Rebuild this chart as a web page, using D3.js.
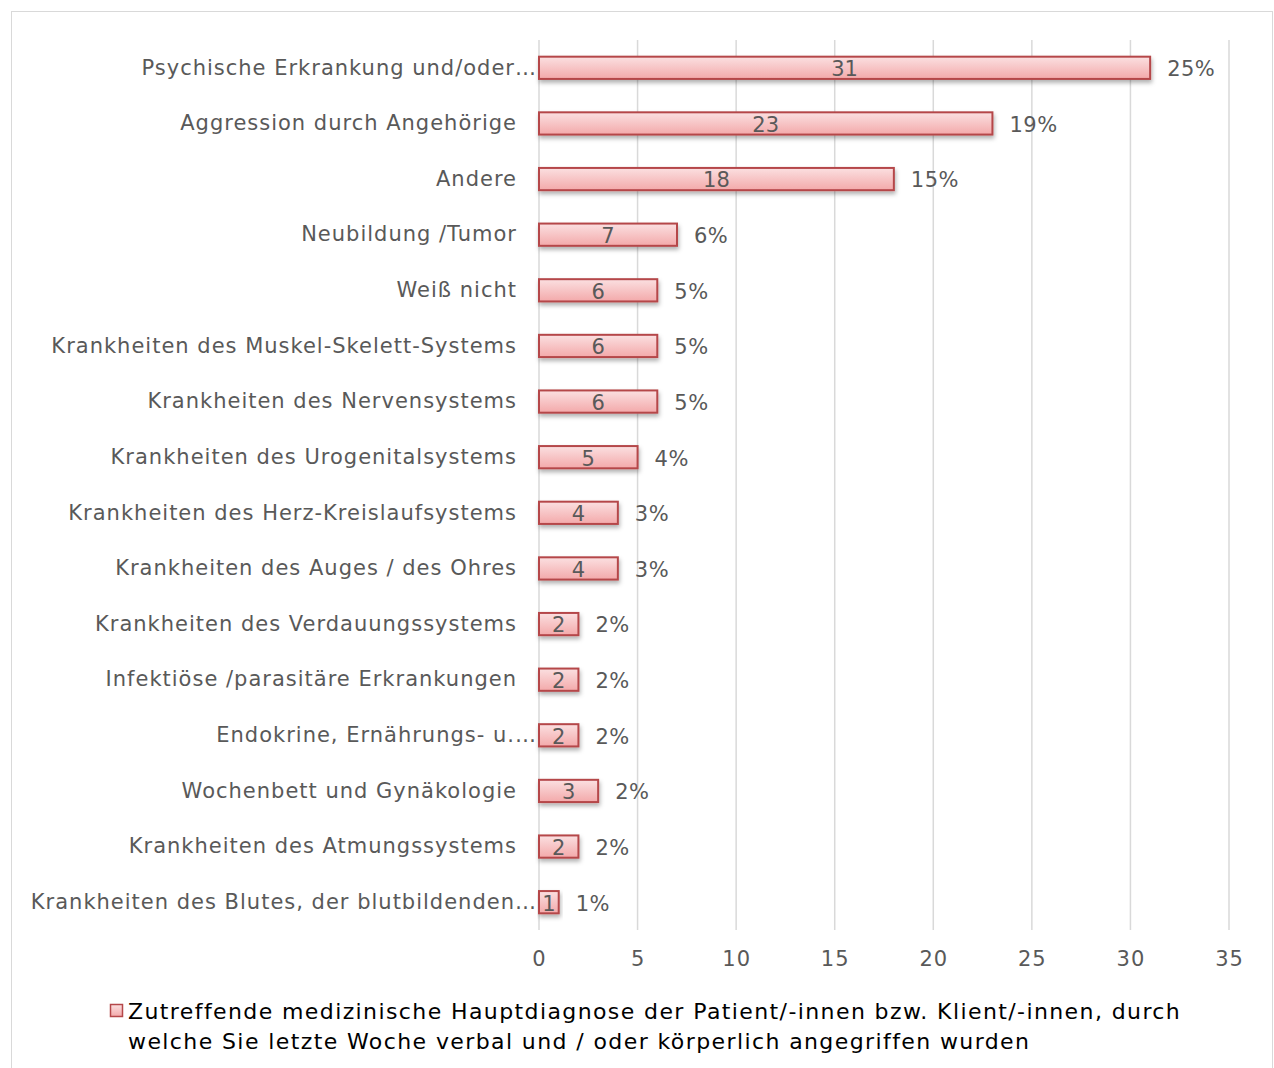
<!DOCTYPE html>
<html>
<head>
<meta charset="utf-8">
<script src="https://cdn.jsdelivr.net/npm/d3@7"></script>
<style>
  body { margin: 0; background: #fff; }
  text { font-family: "DejaVu Sans", sans-serif; }
</style>
</head>
<body>
<div id="chart-area"></div>
<script>
const categories = [
  "Psychische Erkrankung und/oder\u2026",
  "Aggression durch Angehörige",
  "Andere",
  "Neubildung /Tumor",
  "Weiß nicht",
  "Krankheiten des Muskel-Skelett-Systems",
  "Krankheiten des Nervensystems",
  "Krankheiten des Urogenitalsystems",
  "Krankheiten des Herz-Kreislaufsystems",
  "Krankheiten des Auges / des Ohres",
  "Krankheiten des Verdauungssystems",
  "Infektiöse /parasitäre Erkrankungen",
  "Endokrine, Ernährungs- u.\u2026",
  "Wochenbett und Gynäkologie",
  "Krankheiten des Atmungssystems",
  "Krankheiten des Blutes, der blutbildenden\u2026"
];
const counts = [31, 23, 18, 7, 6, 6, 6, 5, 4, 4, 2, 2, 2, 3, 2, 1];
const percents = ["25%", "19%", "15%", "6%", "5%", "5%", "5%", "4%", "3%", "3%", "2%", "2%", "2%", "2%", "2%", "1%"];
const xTicks = [0, 5, 10, 15, 20, 25, 30, 35];
const legendLines = [
  "Zutreffende medizinische Hauptdiagnose der Patient/-innen bzw. Klient/-innen, durch",
  "welche Sie letzte Woche verbal und / oder körperlich angegriffen wurden"
];

const canvasWidth = 1274;
const canvasHeight = 1068;
const margin = {left: 539, top: 40};

const canvas = d3.select("#chart-area").append("svg")
  .attr("width", canvasWidth).attr("height", canvasHeight);

const defs = canvas.append("defs");
const grad = defs.append("linearGradient").attr("id", "barFill")
  .attr("x1", 0).attr("y1", 0).attr("x2", 0).attr("y2", 1);
grad.append("stop").attr("offset", "0%").attr("stop-color", "#fbe0e1");
grad.append("stop").attr("offset", "100%").attr("stop-color", "#f3a9aa");
const shadow = defs.append("filter").attr("id", "shadow")
  .attr("x", "-10%").attr("y", "-30%").attr("width", "130%").attr("height", "180%");
shadow.append("feDropShadow").attr("dx", 1).attr("dy", 3).attr("stdDeviation", 2)
  .attr("flood-color", "#000").attr("flood-opacity", 0.3);

// outer chart border
canvas.append("rect").attr("x", 11.5).attr("y", 11.5)
  .attr("width", 1261).attr("height", 1070)
  .attr("fill", "none").attr("stroke", "#d9d9d9");

const chartGroup = canvas.append("g").attr("transform", `translate(${margin.left}, ${margin.top})`);

const scaleX = d3.scaleLinear().domain([0, 35]).range([0, 690]);
const scaleY = d3.scaleBand().domain(categories).range([0, 890]).paddingInner(0.6).paddingOuter(0.3);

// grid lines
chartGroup.append("g").selectAll("line").data(xTicks).join("line")
  .attr("x1", d => scaleX(d)).attr("x2", d => scaleX(d))
  .attr("y1", 0).attr("y2", 890)
  .attr("stroke", "#d9d9d9").attr("stroke-width", 1.5);

// x axis labels
const xAxis = d3.axisBottom(scaleX).tickValues(xTicks).tickSize(0).tickPadding(21);
const xg = chartGroup.append("g").attr("transform", `translate(0, 890)`).call(xAxis);
xg.select(".domain").remove();
xg.selectAll("text").attr("font-size", "21px").attr("fill", "#595959")
  .style("font-family", "DejaVu Sans, sans-serif").style("letter-spacing", "1px");

// category labels
const yAxis = d3.axisLeft(scaleY).tickSize(0).tickPadding(22);
const yg = chartGroup.append("g").call(yAxis);
yg.select(".domain").remove();
yg.selectAll("text").attr("font-size", "21px").attr("fill", "#595959")
  .style("font-family", "DejaVu Sans, sans-serif").style("letter-spacing", "1px");
// truncated labels run right up to the axis, like the original
yg.selectAll("text").filter(d => d.endsWith("\u2026")).attr("x", -2);

// bars
const rows = categories.map((c, i) => ({cat: c, value: counts[i], pct: percents[i]}));
chartGroup.append("g").selectAll("rect").data(rows).join("rect")
  .attr("x", 0)
  .attr("y", d => scaleY(d.cat))
  .attr("width", d => scaleX(d.value))
  .attr("height", scaleY.bandwidth())
  .attr("fill", "url(#barFill)")
  .attr("stroke", "#b5474a").attr("stroke-width", 2)
  .attr("filter", "url(#shadow)");

// value labels (centered in bars)
chartGroup.append("g").selectAll("text").data(rows).join("text")
  .attr("x", d => scaleX(d.value) / 2)
  .attr("y", d => scaleY(d.cat) + scaleY.bandwidth() / 2)
  .attr("dy", "0.4em")
  .attr("text-anchor", "middle")
  .attr("font-size", "21px").attr("fill", "#595959")
  .text(d => d.value);

// percentage labels
chartGroup.append("g").selectAll("text").data(rows).join("text")
  .attr("x", d => scaleX(d.value) + 17)
  .attr("y", d => scaleY(d.cat) + scaleY.bandwidth() / 2)
  .attr("dy", "0.4em")
  .attr("font-size", "21px").attr("fill", "#595959")
  .style("letter-spacing", "0.5px")
  .text(d => d.pct);

// legend
const legend = canvas.append("g").attr("transform", "translate(110, 1004)");
legend.append("rect").attr("x", 0.5).attr("y", 0.5).attr("width", 12).attr("height", 12)
  .attr("fill", "url(#barFill)").attr("stroke", "#b5474a").attr("stroke-width", 1.5);
legend.selectAll("text.l").data(legendLines).join("text")
  .attr("class", "l")
  .attr("x", 18)
  .attr("y", (d, i) => 15 + i * 30)
  .attr("font-size", "22px").attr("fill", "#000")
  .style("letter-spacing", "1.4px")
  .text(d => d);
</script>
</body>
</html>
